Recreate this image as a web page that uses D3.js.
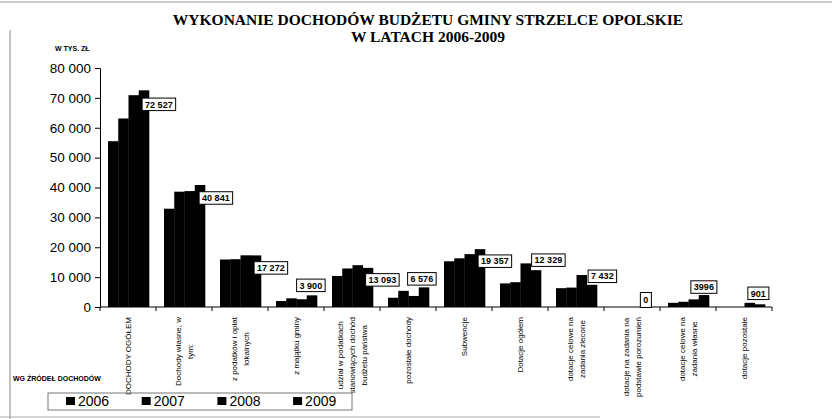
<!DOCTYPE html>
<html>
<head>
<meta charset="utf-8">
<script src="https://cdn.jsdelivr.net/npm/d3@7"></script>
<style>
  html, body { margin: 0; padding: 0; background: #fff; }
  svg { display: block; }
</style>
</head>
<body>
<svg id="chart" width="832" height="419"></svg>
<script>
// ---- data ----
const categories = [
  ["DOCHODY OGÓŁEM"],
  ["Dochody własne, w", "tym:"],
  ["z podatków i opłat", "lokalnych"],
  ["z majątku gminy"],
  ["udział w podatkach", "stanowiących dochód", "budżetu państwa"],
  ["pozostałe dochody"],
  ["Subwencje"],
  ["Dotacje ogółem"],
  ["dotacje celowe na", "zadania zlecone"],
  ["dotacje na zadania na", "podstawie porozumień"],
  ["dotacje celowe na", "zadania własne"],
  ["dotacje pozostałe"]
];
const years = ["2006", "2007", "2008", "2009"];
const v2006 = [55500, 32900, 15900, 2000, 10400, 3100, 15300, 7900, 6300, 0, 1400, 0];
const v2007 = [63100, 38600, 16000, 2900, 12900, 5400, 16300, 8300, 6500, 0, 1750, 0];
const v2008 = [70900, 38800, 17300, 2600, 14000, 3700, 17700, 14600, 10700, 0, 2550, 1400];
const v2009 = [72527, 40841, 17272, 3900, 13093, 6576, 19357, 12329, 7432, 0, 3996, 901];
const valueLabels = ["72 527", "40 841", "17 272", "3 900", "13 093", "6 576", "19 357", "12 329", "7 432", "0", "3996", "901"];
const yTicks = [0, 10000, 20000, 30000, 40000, 50000, 60000, 70000, 80000];
const yTickLabels = ["0", "10 000", "20 000", "30 000", "40 000", "50 000", "60 000", "70 000", "80 000"];
const titleLines = ["WYKONANIE DOCHODÓW BUDŻETU GMINY STRZELCE OPOLSKIE", "W LATACH 2006-2009"];
const unitLabel = "W TYS. ZŁ";
const axisTitle = "WG ŹRÓDEŁ DOCHODÓW";

// label box offsets (layout only): centre relative to 2009 bar centre / top
const labelDx = [15, 16, 15, -1, 14.5, -2, 15, 12.5, 10.5, -2, 0, -1.5];
const labelDy = [14, 13, 12.5, -10, 12, -8.5, 12, -10, -8.5, -7, -8, -11];

const series = [v2006, v2007, v2008, v2009];

// ---- drawing ----
const svg = d3.select("#chart");
const font = "'Liberation Sans', Arial, sans-serif";

// frame (scan border)
svg.append("line").attr("x1", 0).attr("x2", 832).attr("y1", 2).attr("y2", 2)
  .attr("stroke", "#999").attr("stroke-width", 1);
svg.append("line").attr("x1", 10).attr("x2", 10).attr("y1", 30).attr("y2", 419)
  .attr("stroke", "#888").attr("stroke-width", 1);
svg.append("line").attr("x1", 0).attr("x2", 600).attr("y1", 417).attr("y2", 417)
  .attr("stroke", "#aaa").attr("stroke-width", 1);

const catIdx = categories.map((d, i) => i);
const x0 = d3.scaleBand().domain(catIdx).range([100, 772]).paddingInner(0).paddingOuter(0);
const x1 = d3.scaleBand().domain(years).range([8, 49]).padding(0);
const y = d3.scaleLinear().domain([0, 80000]).range([307, 68]);

// title
svg.append("g").selectAll("text").data(titleLines).join("text")
  .attr("x", 428).attr("y", (d, i) => 25 + i * 17)
  .attr("text-anchor", "middle")
  .attr("font-family", "'Liberation Serif', 'Times New Roman', serif")
  .attr("font-weight", "bold").attr("font-size", 15.5)
  .text(d => d);

svg.append("text").attr("x", 55).attr("y", 51)
  .attr("font-family", font).attr("font-weight", "bold").attr("font-size", 7)
  .text(unitLabel);

svg.append("text").attr("x", 13).attr("y", 381)
  .attr("font-family", font).attr("font-weight", "bold").attr("font-size", 7)
  .text(axisTitle);

// y axis
const yAxis = d3.axisLeft(y).tickValues(yTicks).tickFormat((d, i) => yTickLabels[i]).tickSize(5).tickPadding(4);
const gy = svg.append("g").attr("transform", "translate(100,0)").call(yAxis);
gy.select(".domain").attr("stroke", "#000");
gy.selectAll(".tick line").attr("stroke", "#000");
gy.selectAll(".tick text").attr("font-family", font).attr("font-size", 13.5).attr("fill", "#000");

// bars
const bars = svg.append("g");
catIdx.forEach(i => {
  bars.selectAll(null).data(years.map((yr, k) => ({yr, v: series[k][i]}))).join("rect")
    .attr("x", d => x0(i) + x1(d.yr))
    .attr("width", x1.bandwidth() + 0.3)
    .attr("y", d => y(d.v))
    .attr("height", d => y(0) - y(d.v))
    .attr("fill", "#000");
});

// x axis
const gx = svg.append("g").attr("transform", `translate(0,${y(0)})`);
gx.append("line").attr("x1", 100).attr("x2", 772).attr("stroke", "#000");
gx.selectAll("line.tk").data(d3.range(categories.length + 1)).join("line")
  .attr("class", "tk")
  .attr("x1", d => 100 + d * x0.step()).attr("x2", d => 100 + d * x0.step())
  .attr("y1", 0).attr("y2", 4).attr("stroke", "#000");

// category labels (rotated)
catIdx.forEach(i => {
  const lines = categories[i];
  const cx = x0(i) + x0.bandwidth() / 2;
  const lh = 12;
  const g = svg.append("g")
    .attr("transform", `translate(${cx - (lines.length - 1) * lh / 2 + 3},317) rotate(-90)`);
  const texts = g.selectAll("text").data(lines).join("text")
    .attr("x", 0).attr("y", (d, j) => j * lh)
    .attr("font-family", font).attr("font-size", 8)
    .attr("text-anchor", "middle")
    .text(d => d);
  let maxW = 0;
  texts.each(function () { maxW = Math.max(maxW, this.getComputedTextLength()); });
  texts.attr("x", -maxW / 2);
});

// value labels
const lg = svg.append("g");
catIdx.forEach(i => {
  const bx = x0(i) + x1("2009") + x1.bandwidth() / 2 + labelDx[i];
  const by = y(v2009[i]) + labelDy[i];
  const t = lg.append("text").attr("x", bx).attr("y", by + 3.2)
    .attr("text-anchor", "middle")
    .attr("font-family", font).attr("font-weight", "bold").attr("font-size", 9)
    .text(valueLabels[i]);
  const w = t.node().getComputedTextLength();
  const h = valueLabels[i] === "0" ? 15 : 12.5;
  const pw = 3;
  lg.insert("rect", () => t.node())
    .attr("x", bx - w / 2 - pw).attr("y", by - h / 2)
    .attr("width", w + 2 * pw).attr("height", h)
    .attr("fill", "#fff").attr("stroke", "#000").attr("stroke-width", 1);
});

// legend
const leg = svg.append("g");
leg.append("rect").attr("x", 48).attr("y", 393).attr("width", 304).attr("height", 17)
  .attr("fill", "none").attr("stroke", "#777").attr("stroke-width", 1);
years.forEach((yr, k) => {
  const lx = 66 + k * 75.7;
  leg.append("rect").attr("x", lx).attr("y", 397).attr("width", 9).attr("height", 8).attr("fill", "#000");
  leg.append("text").attr("x", lx + 12).attr("y", 406)
    .attr("font-family", font).attr("font-size", 14).text(yr);
});
</script>
</body>
</html>
